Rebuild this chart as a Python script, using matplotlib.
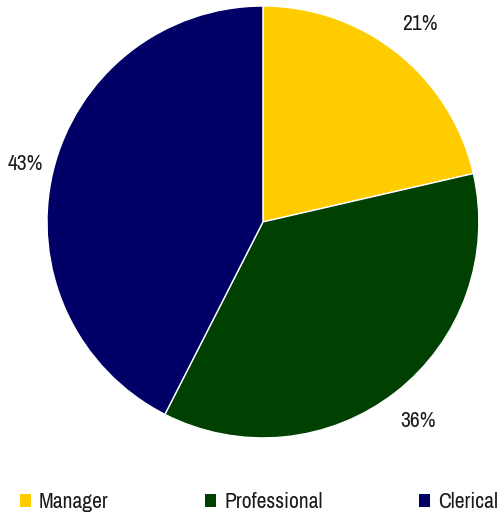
import matplotlib.pyplot as plt
from matplotlib.patches import Patch

# data
categories = ['Manager', 'Professional', 'Clerical']
shares = [21.4, 36.1, 42.5]
pct_labels = ['21%', '36%', '43%']
colors = ['#FFCC00', '#004000', '#000066']

plt.rcParams['font.family'] = ['Archivo Narrow', 'DejaVu Sans']

fig = plt.figure(figsize=(5.01, 5.15), dpi=100)
ax = fig.add_axes([0.0938, 0.1495, 0.862, 0.839])

wedges, texts = ax.pie(shares, labels=pct_labels, colors=colors, startangle=90, counterclock=False,
                       labeldistance=1.17, radius=1.0,
                       wedgeprops=dict(edgecolor='white', linewidth=1.0),
                       textprops=dict(fontsize=15.5, color='#1a1a1a', ha='center', va='center'))
for t in texts:
    t.set_horizontalalignment('center')
# nudge the 43% label a bit toward the pie
x, y = texts[2].get_position()
texts[2].set_position((x + 0.035, y - 0.005))
ax.set_xlim(-1, 1)
ax.set_ylim(-1, 1)
ax.set_aspect('equal')

handles = [Patch(facecolor=c, edgecolor='none', label=l) for c, l in zip(colors, categories)]
fig.legend(handles=handles, loc='center', bbox_to_anchor=(0.517, 0.025), ncol=3, frameon=False,
           fontsize=15.5, handlelength=0.5, handleheight=0.5, handletextpad=0.37, columnspacing=4.5,
           labelcolor='#1a1a1a')

fig.savefig('out.png', dpi=100)
